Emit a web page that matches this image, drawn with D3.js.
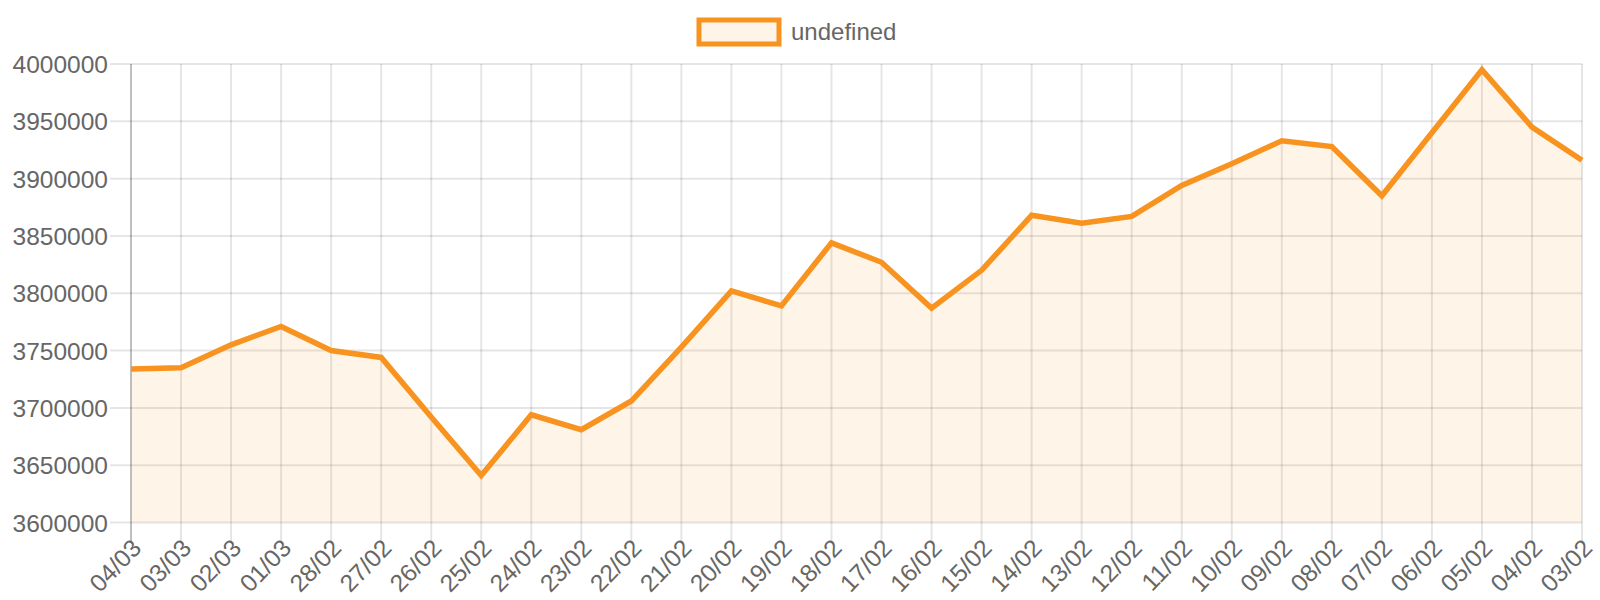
<!DOCTYPE html>
<html>
<head>
<meta charset="utf-8">
<script src="https://cdn.jsdelivr.net/npm/d3@7/dist/d3.min.js"></script>
<style>
  html, body { margin: 0; padding: 0; background: #fff; }
  svg { display: block; font-family: "Liberation Sans", Arial, Helvetica, sans-serif; }
</style>
</head>
<body>
<svg id="chart" width="1600" height="600"></svg>
<script>
const categories = ["04/03","03/03","02/03","01/03","28/02","27/02","26/02","25/02","24/02","23/02",
  "22/02","21/02","20/02","19/02","18/02","17/02","16/02","15/02","14/02","13/02",
  "12/02","11/02","10/02","09/02","08/02","07/02","06/02","05/02","04/02","03/02"];
const values = [3734000,3735000,3755000,3771000,3750000,3744000,3692000,3641000,3694000,3681000,
  3706000,3753000,3802000,3789000,3844000,3827000,3787000,3820000,3868000,3861000,
  3867000,3894000,3913000,3933000,3928000,3885000,3940000,3995000,3945000,3916000];
const yTicks = [3600000,3650000,3700000,3750000,3800000,3850000,3900000,3950000,4000000];
const seriesName = "undefined";

(function () {
const orange = "#F7931E";
const fillCol = "rgba(247,148,30,0.1)";
const textCol = "#666";
const fontSize = "24.5px";

const svg = d3.select("#chart");
const pLeft = 131, pRight = 1582, pTop = 64, pBottom = 522.5;

const x = d3.scalePoint().domain(categories).range([pLeft, pRight]);
const y = d3.scaleLinear().domain([3600000, 4000000]).range([pBottom, pTop]);

// horizontal grid lines
svg.append("g").selectAll("line").data(yTicks).join("line")
  .attr("x1", pLeft - 21).attr("x2", pRight)
  .attr("y1", d => y(d)).attr("y2", d => y(d))
  .attr("stroke", "rgba(0,0,0,0.1)").attr("stroke-width", 2);

// vertical grid lines
svg.append("g").selectAll("line").data(categories).join("line")
  .attr("x1", d => x(d)).attr("x2", d => x(d))
  .attr("y1", pTop).attr("y2", pBottom + 20)
  .attr("stroke", (d, i) => i === 0 ? "rgba(0,0,0,0.25)" : "rgba(0,0,0,0.1)")
  .attr("stroke-width", 2);

// area fill
const data = categories.map((c, i) => ({c, v: values[i]}));
svg.append("path").datum(data)
  .attr("d", d3.area().x(d => x(d.c)).y0(pBottom).y1(d => y(d.v)))
  .attr("fill", fillCol);

// line
svg.append("path").datum(data)
  .attr("d", d3.line().x(d => x(d.c)).y(d => y(d.v)))
  .attr("fill", "none").attr("stroke", orange)
  .attr("stroke-width", 5.5).attr("stroke-linejoin", "miter");

// y axis labels
const yAxis = svg.append("g").attr("transform", `translate(${pLeft - 21},0)`)
  .call(d3.axisLeft(y).tickValues(yTicks).tickFormat(d => String(d)).tickSize(0).tickPadding(2));
yAxis.select(".domain").remove();
yAxis.selectAll("text").attr("fill", textCol).style("font-size", fontSize)
  .attr("dy", "0.35em");

// x axis labels
const xAxis = svg.append("g").attr("transform", `translate(0,${pBottom + 21})`)
  .call(d3.axisBottom(x).tickSize(0).tickPadding(0));
xAxis.select(".domain").remove();
xAxis.selectAll("text")
  .attr("fill", textCol).style("font-size", fontSize)
  .attr("text-anchor", "end")
  .attr("dy", "0.35em").attr("y", 0)
  .attr("transform", "translate(5,0) rotate(-46)");

// legend
const legend = svg.append("g");
legend.append("rect")
  .attr("x", 699).attr("y", 20).attr("width", 80).attr("height", 24)
  .attr("fill", fillCol).attr("stroke", orange).attr("stroke-width", 5);
legend.append("text")
  .attr("x", 791).attr("y", 32).attr("dy", "0.35em")
  .attr("fill", textCol).style("font-size", "24px")
  .text(seriesName);
})();
</script>
</body>
</html>
